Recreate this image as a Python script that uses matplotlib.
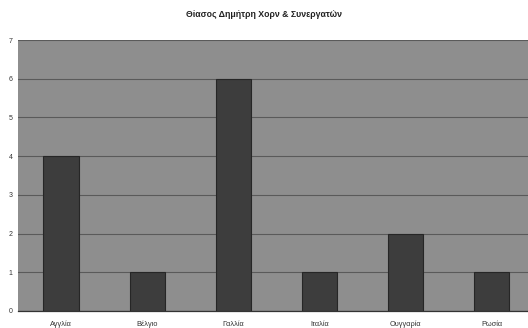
import matplotlib
matplotlib.use("Agg")
import matplotlib.pyplot as plt

plt.rcParams['font.family'] = ['Liberation Sans', 'DejaVu Sans']

title = "Θίασος Δημήτρη Χορν & Συνεργατών"
countries = ["Αγγλία", "Βέλγιο", "Γαλλία", "Ιταλία", "Ουγγαρία", "Ρωσία"]
performances = [4, 1, 6, 1, 2, 1]
y_ticks = [0, 1, 2, 3, 4, 5, 6, 7]

fig = plt.figure(figsize=(5.28, 3.28), dpi=100)
fig.patch.set_facecolor("white")
ax = fig.add_axes([0.034, 0.052, 0.966, 0.826])
ax.set_facecolor("#8e8e8e")

x = list(range(len(countries)))
ax.bar(x, performances, width=0.41, color="#3d3d3d", edgecolor="#262626",
       linewidth=0.8, zorder=3)

ax.set_ylim(0, 7)
ax.set_xlim(-0.5, 5.42)
ax.set_yticks(y_ticks)
ax.set_yticklabels([str(t) for t in y_ticks], fontsize=5, color="#333333")
ax.set_xticks(x)
ax.set_xticklabels(countries, fontsize=5.3, color="#333333")
ax.tick_params(axis="both", length=0)
ax.tick_params(axis="x", pad=7)
ax.tick_params(axis="y", pad=4)
ax.yaxis.grid(True, color="#5a5a5a", linewidth=0.8, zorder=1)
ax.set_axisbelow(True)

for side in ["top", "right", "left"]:
    ax.spines[side].set_visible(False)
ax.spines["bottom"].set_color("#333333")
ax.spines["bottom"].set_linewidth(0.9)

fig.text(0.5, 0.955, title, ha="center", va="center", fontsize=6.3,
         fontweight="bold", color="#222222")

fig.savefig("out.png", dpi=100)
